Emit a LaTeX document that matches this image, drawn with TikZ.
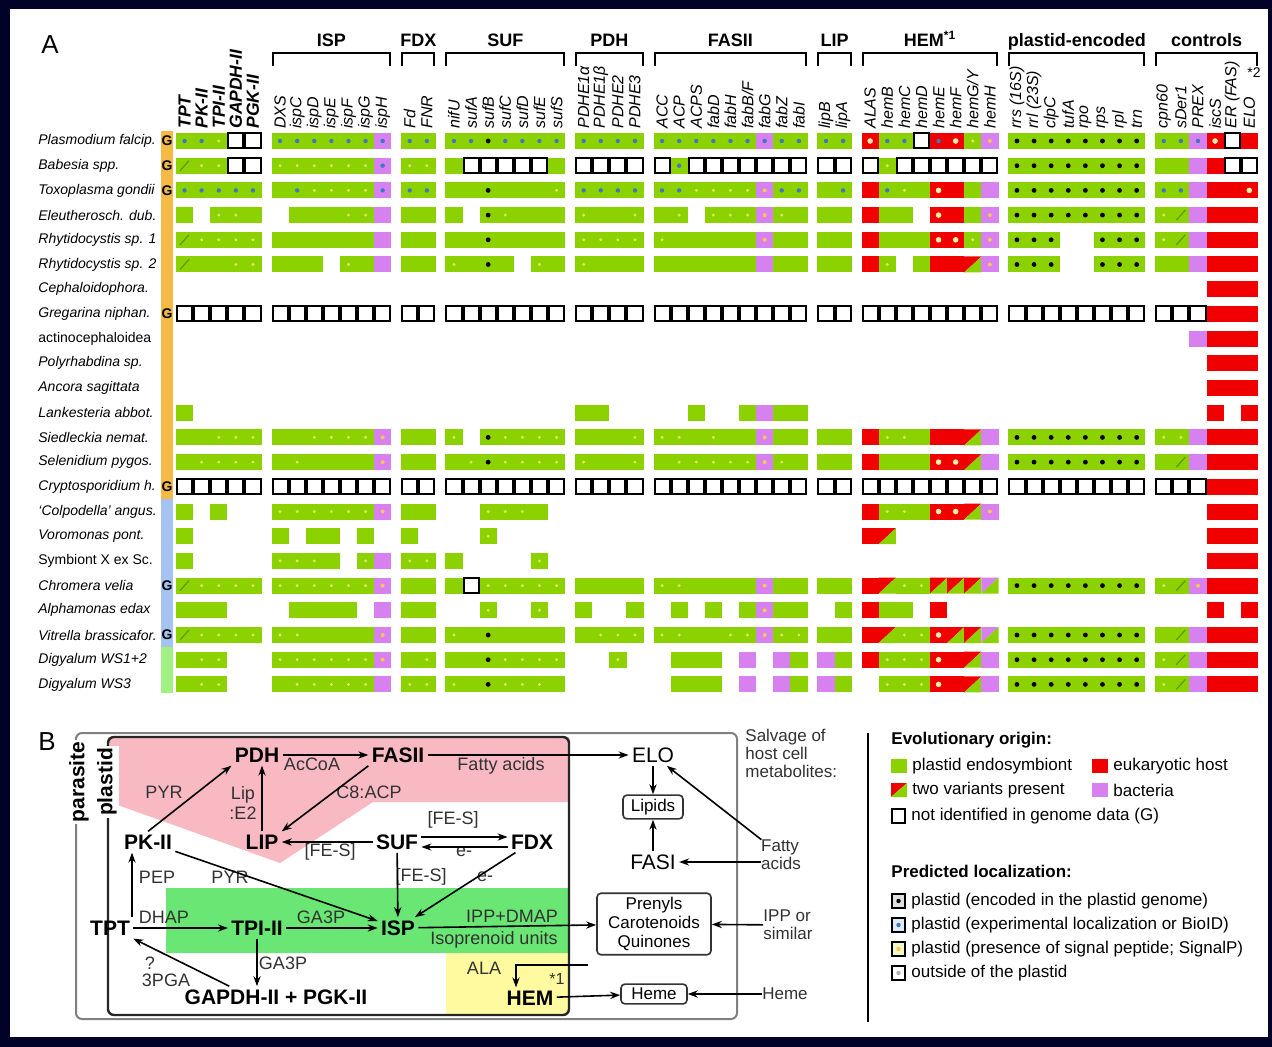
\documentclass[tikz,border=0pt]{standalone}
\usepackage{fontspec}
\setmainfont{Liberation Sans}
\usetikzlibrary{arrows.meta}

\definecolor{navy}{RGB}{2,2,40}
\definecolor{cgreen}{RGB}{140,210,0}
\definecolor{cred}{RGB}{240,0,0}
\definecolor{cpurple}{RGB}{215,128,240}
\definecolor{dotblue}{RGB}{60,120,190}
\definecolor{dotyellow}{RGB}{225,235,110}
\definecolor{dotorange}{RGB}{250,195,90}
\definecolor{dotwhite}{RGB}{255,235,170}
\definecolor{slashgreen}{RGB}{95,150,0}
\definecolor{barorange}{RGB}{245,185,70}
\definecolor{barblue}{RGB}{165,195,240}
\definecolor{bargreen}{RGB}{160,240,130}
\definecolor{bgpink}{RGB}{248,185,195}
\definecolor{bggreen}{RGB}{105,230,115}
\definecolor{bgyellow}{RGB}{255,250,160}
\definecolor{labgray}{RGB}{50,50,50}

\tikzset{
  panlab/.style={inner sep=0pt, font=\fontsize{13}{14}\selectfont},
  rowlab/.style={anchor=west, inner sep=0pt, font=\fontsize{7}{8}\selectfont\itshape},
  collab/.style={rotate=90, anchor=west, inner sep=0pt, font=\fontsize{8}{9}\selectfont\itshape},
  colbold/.style={collab, font=\fontsize{8.75}{9}\selectfont\bfseries\itshape},
  grouphead/.style={inner sep=0pt, font=\fontsize{9}{10}\selectfont\bfseries},
  bracket/.style={line width=1pt},
  gmark/.style={inner sep=0pt, font=\fontsize{7}{8}\selectfont\bfseries},
  boxlab/.style={rotate=90, inner sep=1pt, font=\fontsize{10.5}{12}\selectfont\bfseries},
  pnode/.style={inner sep=1.5pt, font=\fontsize{10.5}{12}\selectfont\bfseries},
  snode/.style={inner sep=1.5pt, font=\fontsize{10.5}{12}\selectfont},
  plab/.style={inner sep=0pt, text=labgray, font=\fontsize{9}{10}\selectfont},
  slab/.style={inner sep=0pt, text=labgray, align=left, font=\fontsize{8.5}{9}\selectfont},
  pbox/.style={draw=black!80, line width=0.8pt, rounded corners=2pt, inner sep=2pt,
    align=center, font=\fontsize{8.5}{9.5}\selectfont},
  parrow/.style={-{Stealth[length=5pt,width=3.6pt]}, line width=0.8pt},
  legtext/.style={anchor=west, inner sep=0pt, font=\fontsize{8.5}{10}\selectfont},
  leghead/.style={anchor=west, inner sep=0pt, font=\fontsize{8.5}{10}\selectfont\bfseries},
}

% one cell of the table, left edge \cx, middle \cy
\newcommand\cellfill[1]{\fill[#1] (\cx,\cy-8) rectangle ++(17.2,16);}
\newcommand\celldot[2]{\fill[#1] (\cx+8.55,\cy) circle (#2);}
\newcommand\cellg{\cellfill{cgreen}}
\newcommand\celly{\cellfill{cgreen}\celldot{dotyellow}{1.6}}
\newcommand\cellb{\cellfill{cgreen}\celldot{dotblue}{2.2}}
\newcommand\cellk{\cellfill{cgreen}\celldot{black}{2.4}}
\newcommand\celld{\cellfill{cgreen}\draw[slashgreen, line width=0.6pt] (\cx+4,\cy+5) -- (\cx+13,\cy-5);}
\newcommand\cellp{\cellfill{cpurple}}
\newcommand\cellP{\cellfill{cpurple}\celldot{dotorange}{2}}
\newcommand\cellq{\cellfill{cpurple}\celldot{dotblue}{2.2}}
\newcommand\cellr{\cellfill{cred}}
\newcommand\cellR{\cellfill{cred}\celldot{dotwhite}{2.8}}
\newcommand\cellS{\cellfill{cred}\celldot{dotblue}{2.2}}
\newcommand\cellt{\fill[cred] (\cx,\cy-8) -- ++(17.2,0) -- ++(-17.2,16) -- cycle;
  \fill[cgreen] (\cx+17.2,\cy-8) -- ++(0,16) -- ++(-17.2,0) -- cycle;}
\newcommand\cellu{\fill[cpurple] (\cx,\cy-8) -- ++(17.2,0) -- ++(-17.2,16) -- cycle;
  \fill[cgreen] (\cx+17.2,\cy-8) -- ++(0,16) -- ++(-17.2,0) -- cycle;}
\newcommand\cello{\filldraw[fill=white, draw=black, line width=1pt] (\cx+1,\cy-7.5) rectangle ++(15.1,15);}
\expandafter\newcommand\csname cell.\endcsname{}

% a row of codes, | starts the next gene group
\def\readcells#1{%
  \ifx#1\relax
  \else
    \ifx#1|%
      \pgfmathsetmacro\cx{\cx+10}%
    \else
      \csname cell#1\endcsname
      \pgfmathsetmacro\cx{\cx+17.1}%
    \fi
    \expandafter\readcells
  \fi}
\newcommand\cellrow[2]{\pgfmathsetmacro\cy{141+24.7*(#1-1)}\def\cx{176}\readcells#2\relax}

\begin{document}
\begin{tikzpicture}[x=0.5pt, y=-0.5pt]
\useasboundingbox (0,0) rectangle (1272,1047);
\fill[navy] (0,0) rectangle (1272,1047);
\fill[white] (10,9) rectangle (1268,1037);

% ---------- A ----------
\node[panlab] (labA) at (50,45) {A};

% group brackets
\foreach \xs/\n/\lab [count=\i] in {271.5/7/ISP, 401.2/2/FDX, 445.4/7/SUF, 575.1/4/PDH,
    653.5/9/FASII, 817.4/2/LIP, 861.6/8/HEM\textsuperscript{*1}, 1008.4/8/plastid-encoded, 1155.2/6/controls}{
  \draw[bracket] (\xs+1,66) -- (\xs+1,53) -- ({\xs+17.1*\n-1},53) -- ({\xs+17.1*\n-1},66);
  \node[grouphead, anchor=base] (head\i) at ({\xs+8.55*\n},47) {\lab};
}

% gene names
\foreach \lab [count=\i from 0] in {TPT,PK-II,TPI-II,GAPDH-II,PGK-II}
  \node[colbold] (tp\i) at ({176+17.1*(\i+0.5)},129) {\lab};
\foreach \lab [count=\i from 0] in {DXS,ispC,ispD,ispE,ispF,ispG,ispH}
  \node[collab] (isp\i) at ({271.5+17.1*(\i+0.5)},129) {\lab};
\foreach \lab [count=\i from 0] in {Fd,FNR}
  \node[collab] (fdx\i) at ({401.2+17.1*(\i+0.5)},129) {\lab};
\foreach \lab [count=\i from 0] in {nifU,sufA,sufB,sufC,sufD,sufE,sufS}
  \node[collab] (suf\i) at ({445.4+17.1*(\i+0.5)},129) {\lab};
\foreach \lab [count=\i from 0] in {PDHE1α,PDHE1β,PDHE2,PDHE3}
  \node[collab] (pdh\i) at ({575.1+17.1*(\i+0.5)},129) {\lab};
\foreach \lab [count=\i from 0] in {ACC,ACP,ACPS,fabD,fabH,fabB/F,fabG,fabZ,fabI}
  \node[collab] (fas\i) at ({653.5+17.1*(\i+0.5)},129) {\lab};
\foreach \lab [count=\i from 0] in {lipB,lipA}
  \node[collab] (lip\i) at ({817.4+17.1*(\i+0.5)},129) {\lab};
\foreach \lab [count=\i from 0] in {ALAS,hemB,hemC,hemD,hemE,hemF,hemG/Y,hemH}
  \node[collab] (hem\i) at ({861.6+17.1*(\i+0.5)},129) {\lab};
\foreach \lab [count=\i from 0] in {rrs (16S),rrl (23S),clpC,tufA,rpo,rps,rpl,trn}
  \node[collab] (pe\i) at ({1008.4+17.1*(\i+0.5)},129) {\lab};
\foreach \lab [count=\i from 0] in {cpn60,sDer1,PREX,iscS,ER (FAS),ELO}
  \node[collab] (ctl\i) at ({1155.2+17.1*(\i+0.5)},129) {\lab};
\node[inner sep=0pt, font=\fontsize{7}{8}\selectfont] (star2) at (1254,73) {*2};

% taxa
\foreach \taxon [count=\r from 0] in {Plasmodium falcip., Babesia spp., Toxoplasma gondii,
    Eleutherosch. dub., Rhytidocystis sp. 1, Rhytidocystis sp. 2, Cephaloidophora.,
    Gregarina niphan., {\upshape actinocephaloidea}, Polyrhabdina sp., Ancora sagittata,
    Lankesteria abbot., Siedleckia nemat., Selenidium pygos., Cryptosporidium h.,
    `Colpodella' angus., Voromonas pont., {\upshape Symbiont X ex Sc.}, Chromera velia,
    Alphamonas edax, Vitrella brassicafor., Digyalum WS1+2, Digyalum WS3}
  \node[rowlab] (taxon\r) at (38,{141+24.7*\r}) {\taxon};

% lineage bars and genome marks
\fill[barorange] (161,131) rectangle (173,499);
\fill[barblue] (161,499) rectangle (173,647);
\fill[bargreen] (161,647) rectangle (173,693);
\foreach \r in {0,1,2,7,14,18,20}
  \node[gmark] (gm\r) at (167,{141+24.7*\r}) {G};

% cells
\cellrow{1}{bbyoo|bbbbbbq|bb|bbkbbbb|bbbb|bbbbbbqbb|bb|RbboSRyP|kkkkkkkk|bbqRor}
\cellrow{2}{dyyoo|yyyyyyq|yy|gooooog|oooo|obooooooo|oo|oyoooooo|kkkkkkkk|ggproo}
\cellrow{3}{bbbbb|gbyyyyq|bb|ggkgggy|bbbb|bbyyyyPbb|gb|rbygRrgp|kkkkkkkk|bbprrR}
\cellrow{4}{g.yyg|.gggyyp|gg|g.kyggg|yggy|gy.yyyPyg|gg|rgg.RrgP|kkkkkkkk|ydprrr}
\cellrow{5}{dyyyy|ggggggp|gg|ggkgggg|yyyy|ygggggPgg|gg|rgggRRyP|kkk..kkk|ydprrr}
\cellrow{6}{dggyy|ggg.ygp|gg|ygkg.yg|yggg|ggggggpgg|gg|ry.grrtP|kkk..kkk|ggprrr}
\cellrow{7}{.....|.......|..|.......|....|.........|..|........|........|...rrr}
\cellrow{8}{ooooo|ooooooo|oo|ooooooo|oooo|ooooooooo|oo|oooooooo|oooooooo|ooorrr}
\cellrow{9}{.....|.......|..|.......|....|.........|..|........|........|..prrr}
\cellrow{10}{.....|.......|..|.......|....|.........|..|........|........|...rrr}
\cellrow{11}{.....|.......|..|.......|....|.........|..|........|........|...rrr}
\cellrow{12}{g....|.......|..|.......|gg..|..g..gpgg|..|........|........|...r.r}
\cellrow{13}{ggyyy|ggyyyyP|gg|y.kyyyy|gggy|yygyggPgg|gg|ryygrrtp|kkkkkkkk|yyprrr}
\cellrow{14}{gyyyy|gyggggP|gg|gykyyyy|yggy|gyyyyyPyg|gg|rgggRRtp|kkkkkkkk|gdprrr}
\cellrow{15}{ooooo|ooooooo|oo|ooooooo|oooo|ooooooooo|oo|oooooooo|oooooooo|ooorrr}
\cellrow{16}{g.g..|yyyyyyP|gg|..yyyg.|....|.........|..|ryygRRtP|........|...rrr}
\cellrow{17}{g....|g.gg.g.|g.|..y....|....|.........|..|rt......|........|...rrr}
\cellrow{18}{g....|yyyg.yp|yy|g....y.|....|.........|..|........|........|...rrr}
\cellrow{19}{dyyyy|yyyyyyP|gg|goyyyyy|gggg|yyggggPgg|gg|rtyytttu|kkkkkkkk|ydPrrr}
\cellrow{20}{ggg..|.gggg.p|gg|..y..y.|g..g|.g.g.gPgg|.g|rgg.r...|........|...r.r}
\cellrow{21}{dyyyy|yyggggP|gg|ygkgggg|gyyy|yyggyyPyy|gg|rtyyRttu|kkkkkkkk|gdprrr}
\cellrow{22}{gyy..|yyyyyyP|gy|ggkyyyy|..y.|.ggg.p.pg|pg|ryyyRrtp|kkkkkkkk|ydprrr}
\cellrow{23}{gyy..|gyyyyyp|yy|ygkyyyg|....|.ggg.p.pg|pg|.yyyRrtp|kkkkkkkk|ydprrr}

% ---------- B ----------
\node[panlab] (labB) at (47,742) {B};

% compartments
\fill[bgpink] (108,737) -- (569,737) -- (569,802) -- (373,802) -- (280,863) -- (112,803) -- cycle;
\fill[bggreen] (166,888) rectangle (569,953);
\fill[bgyellow] (446,953) rectangle (569,1015);
\draw[gray, line width=1pt, rounded corners=3pt] (76,733) rectangle (737,1019);
\draw[black!85, line width=1.2pt, rounded corners=3pt] (108,737) rectangle (569,1015);
\node[boxlab, fill=white] (parasite) at (79,782) {parasite};
\node[boxlab, fill=white] (plastid) at (107,782) {plastid};

% pathways
\node[pnode] (PDH) at (257,755) {PDH};
\node[pnode] (FASII) at (398,755) {FASII};
\node[pnode] (LIP) at (262,842) {LIP};
\node[pnode] (SUF) at (397,842) {SUF};
\node[pnode] (FDX) at (532,842) {FDX};
\node[pnode] (PKII) at (148,842) {PK-II};
\node[pnode] (ISP) at (398,928) {ISP};
\node[pnode] (TPT) at (110,928) {TPT};
\node[pnode] (TPI) at (257,928) {TPI-II};
\node[pnode] (GAPDH) at (276,997) {GAPDH-II + PGK-II};
\node[pnode] (HEM) at (530,998) {HEM};
\node[plab, font=\fontsize{8}{9}\selectfont] (hemstar) at (557,979) {*1};

% host side
\node[snode] (ELO) at (653,755) {ELO};
\node[pbox, minimum width=30pt] (lipids) at (653,807) {Lipids};
\node[snode] (FASI) at (653,862) {FASI};
\node[pbox, minimum width=57pt] (prenyls) at (654,924) {Prenyls\\Carotenoids\\Quinones};
\node[pbox, minimum width=33pt] (hemebox) at (654,994) {Heme};
\node[slab, anchor=north west] (salvage) at (745,729) {Salvage of\\host cell\\metabolites:};
\node[slab] (fattyacids) at (781,855) {Fatty\\acids};
\node[slab] (ippsim) at (788,925) {IPP or\\similar};
\node[slab] (hemesrc) at (785,994) {Heme};
\coordinate (alasrc) at (588,965);

% metabolites
\node[plab] (accoa) at (312,764) {AcCoA};
\node[plab] (pyrtop) at (164,792) {PYR};
\node[plab, align=center] (lipe2) at (243,803) {Lip\\:E2};
\node[plab] (c8acp) at (369,792) {C8:ACP};
\node[plab] (fattyin) at (501,766) {Fatty acids};
\node[plab] (fesfdx) at (453,820) {[FE-S]};
\node[plab] (feslip) at (330,852) {[FE-S]};
\node[plab] (efdx) at (464,852) {e-};
\node[plab] (fesisp) at (421,877) {[FE-S]};
\node[plab] (eisp) at (485,877) {e-};
\node[plab] (pep) at (157,877) {PEP};
\node[plab] (pyrlow) at (230,877) {PYR};
\node[plab] (dhap) at (164,917) {DHAP};
\node[plab] (ga3pisp) at (321,917) {GA3P};
\node[plab] (ippdmap) at (512,916) {IPP+DMAP};
\node[plab] (isounits) at (494,940) {Isoprenoid units};
\node[plab] (ga3pgap) at (283,963) {GA3P};
\node[plab] (quest) at (150,963) {?};
\node[plab] (pga) at (166,980) {3PGA};
\node[plab] (ala) at (484,968) {ALA};

% arrows
\draw[parrow] (PDH) -- (FASII);
\draw[parrow] (FASII) -- (ELO);
\draw[parrow] (FASII.south west) -- (LIP.north east);
\draw[parrow] (LIP) -- (LIP |- PDH.south);
\draw[parrow] (PKII.north) -- (PDH.south west);
\draw[parrow] (SUF) -- (LIP);
\draw[parrow] ([yshift=2.5pt]SUF.east) -- ([yshift=2.5pt]FDX.west);
\draw[parrow] ([yshift=-2.5pt]FDX.west) -- ([yshift=-2.5pt]SUF.east);
\draw[parrow] (SUF) -- (ISP);
\draw[parrow] (FDX) -- (ISP);
\draw[parrow] (PKII) -- (ISP);
\draw[parrow] ([xshift=11pt]TPT.north) -- ([xshift=11pt]TPT.north |- PKII.south);
\draw[parrow] (TPT) -- (TPI);
\draw[parrow] (TPI) -- (ISP);
\draw[parrow] (TPI) -- (TPI |- GAPDH.north);
\draw[parrow] ([xshift=24pt]GAPDH.north west) -- (TPT.south east);
\draw[parrow] (ISP) -- (prenyls);
\draw[parrow] (alasrc) -| ([xshift=-7pt]HEM.north);
\draw[parrow] (HEM) -- (hemebox);
\draw[parrow] (ELO) -- (lipids);
\draw[parrow] (FASI) -- (lipids);
\draw[parrow] (fattyacids) -- (ELO);
\draw[parrow] (fattyacids.west |- FASI) -- (FASI);
\draw[parrow] (ippsim) -- (prenyls);
\draw[parrow] (hemesrc) -- (hemebox);

% ---------- legend ----------
\draw[line width=0.8pt] (868,733) -- (868,1022);
\node[leghead] (evo) at (891,740) {Evolutionary origin:};
\fill[cgreen] (891,759) rectangle (907,773);
\node[legtext] (lgreen) at (912,766) {plastid endosymbiont};
\fill[cred] (1092,759) rectangle (1108,773);
\node[legtext] (lred) at (1113,766) {eukaryotic host};
\fill[cred] (891,783) -- (907,783) -- (891,797) -- cycle;
\fill[cgreen] (907,783) -- (907,797) -- (891,797) -- cycle;
\node[legtext] (ltwo) at (912,790) {two variants present};
\fill[cpurple] (1092,783) rectangle (1108,797);
\node[legtext] (lbact) at (1113,790) {bacteria};
\draw[line width=0.9pt] (892,809) rectangle (905,823);
\node[legtext] (lnone) at (911,816) {not identified in genome data (G)};

\node[leghead] (loc) at (891,871) {Predicted localization:};
\foreach \y/\fc/\dc/\txt [count=\i] in {
    901/black!12/black/plastid (encoded in the plastid genome),
    925/dotblue!15/dotblue/plastid (experimental localization or BioID),
    949/dotyellow!40/dotorange/plastid (presence of signal peptide; SignalP),
    973/white/black!30/outside of the plastid}{
  \filldraw[fill=\fc, draw=black, line width=0.9pt] (892,\y-7) rectangle (905,\y+7);
  \fill[\dc] (898.5,\y) circle (2.2);
  \node[legtext] (lloc\i) at (911,\y) {\txt};
}
\end{tikzpicture}
\end{document}
